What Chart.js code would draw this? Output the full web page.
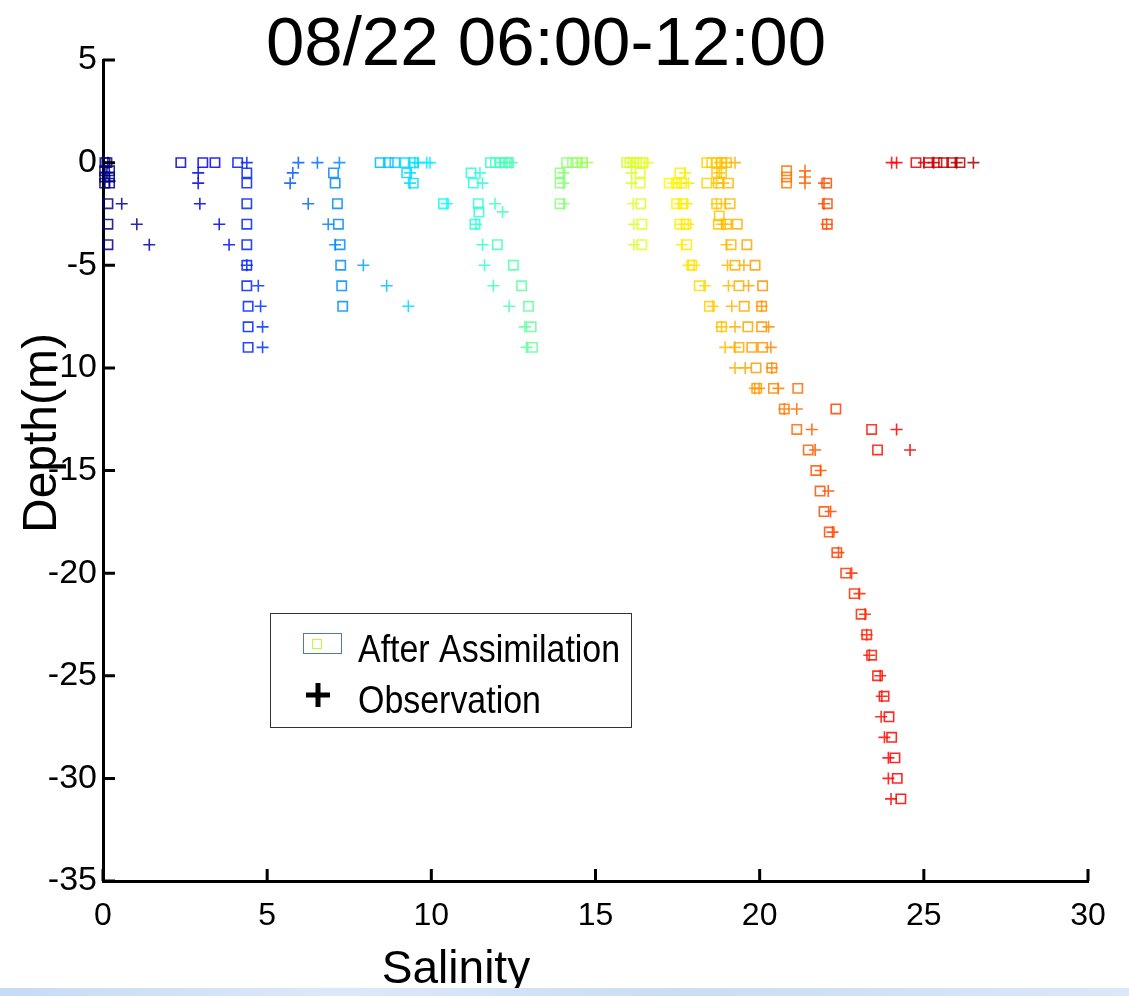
<!DOCTYPE html>
<html>
<head>
<meta charset="utf-8">
<script src="https://cdn.jsdelivr.net/npm/chart.js@4"></script>
<style>
  body { margin: 0; background: #fff; overflow: hidden; }
  #wrap { position: relative; width: 1129px; height: 996px; }
  #strip { position: absolute; left: 0; bottom: 0; width: 1129px; height: 8px;
           background: linear-gradient(to right, #c4dbf6, #dde9f8 30%, #c9ddf5 60%, #dbe8f8); }
</style>
</head>
<body>
<div id="wrap">
  <canvas id="salChart" width="1129" height="996"></canvas>
  <div id="strip"></div>
</div>
<script>
// [salinity, depth] pairs
// station near 0 psu
const freshAssim = [[0.06,0],[0.12,0],[0.05,-0.4],[0.2,-0.4],[0.05,-0.7],[0.2,-0.7],[0.05,-1],[0.2,-1],[0.15,-2],[0.15,-3],[0.15,-4]];
const freshObs = [[0.15,0],[0.12,-0.5],[0.2,-0.9],[0.57,-2],[1.03,-3],[1.41,-4]];

// stations around 4-5 psu
const blueAssim = [[2.37,0],[3.04,0],[3.41,0],[4.10,0],[4.38,-0.5],[4.38,-1],[4.38,-2],[4.38,-3],[4.38,-4],[4.38,-5],[4.38,-6],[4.42,-7],[4.42,-8],[4.42,-9]];
const blueObs = [[4.38,0],[5.95,0],[6.53,0],[7.20,0],[2.90,-0.5],[2.90,-1],[2.95,-2],[3.54,-3],[3.84,-4],[4.38,-5],[4.73,-6],[4.80,-7],[4.86,-8],[4.86,-9]];

// station around 7 psu
const lightBlueAssim = [[7.02,-0.5],[7.07,-1],[7.14,-2],[7.17,-3],[7.22,-4],[7.24,-5],[7.27,-6],[7.30,-7]];
const lightBlueObs = [[5.78,-0.5],[5.70,-1],[6.25,-2],[6.86,-3],[7.07,-4],[7.93,-5],[8.64,-6],[9.30,-7]];

// stations around 9-13 psu
const cyanAssim = [[8.44,0],[8.69,0],[8.89,0],[9.20,0],[9.45,0],[9.25,-0.5],[9.45,-1],[10.37,-2],
  [11.8,0],[11.95,0],[12.1,0],[12.25,0],[12.35,0],[11.21,-0.5],[11.28,-1],[11.43,-2],[11.45,-2.4],[11.33,-3],
  [12.01,-4],[12.50,-5],[12.75,-6],[12.96,-7],[13.04,-8],[13.08,-9]];
const cyanObs = [[9.50,0],[9.60,0],[9.86,0],[9.96,0],[9.35,-0.5],[9.35,-1],[10.47,-2],
  [12.1,0],[12.3,0],[12.45,0],[11.48,-0.5],[11.56,-1],[11.94,-2],[12.17,-2.4],[11.36,-3],
  [11.56,-4],[11.62,-5],[11.89,-6],[12.37,-7],[12.85,-8],[12.90,-9]];

// stations around 14-16 psu
const greenAssim = [[14.12,0],[14.3,0],[14.45,0],[14.6,0],[13.92,-0.5],[13.92,-1],[13.92,-2],
  [15.95,0],[16.05,0],[16.15,0],[16.25,0],[16.35,0],[16.45,0],[16.36,-0.5],[16.36,-1],[16.38,-2],[16.41,-3],[16.41,-4]];
const greenObs = [[14.55,0],[14.75,0],[14.02,-0.5],[14.02,-1],[14.03,-2],
  [16.1,0],[16.58,0],[16.1,-0.5],[16.1,-1],[16.15,-2],[16.17,-3],[16.17,-4]];

// stations around 17-21 psu
const orangeAssim = [[18.39,0],[18.54,0],[18.69,0],[18.84,0],[18.99,0],
  [17.57,-0.5],[18.69,-0.5],[18.84,-0.5],
  [17.24,-1],[17.47,-1],[17.62,-1],[18.39,-1],[18.74,-1],[19.05,-1],
  [17.47,-2],[17.67,-2],[18.69,-2],[19.10,-2],[18.77,-2.6],
  [17.57,-3],[17.76,-3],[18.74,-3],[18.99,-3],[19.32,-3],
  [17.78,-4],[19.13,-4],[19.61,-4],
  [17.93,-5],[19.25,-5],[19.86,-5],
  [18.16,-6],[19.37,-6],[20.09,-6],
  [18.47,-7],[19.53,-7],[20.06,-7],
  [18.84,-8],[19.64,-8],[20.06,-8],
  [19.37,-9],[19.76,-9],[20.09,-9],
  [19.89,-10],[20.37,-10],
  [19.91,-11],[20.42,-11],[21.16,-11]];
const orangeObs = [[18.79,0],[18.99,0],[19.25,0],
  [17.73,-0.5],[18.77,-0.5],
  [17.37,-1],[17.57,-1],[17.83,-1],[18.69,-1],[18.89,-1],
  [17.57,-2],[17.78,-2],[18.69,-2],[18.95,-2],
  [17.62,-3],[17.83,-3],[18.84,-3],[18.95,-3],
  [17.62,-4],[18.99,-4],
  [17.83,-5],[18.0,-5],[19.02,-5],[19.52,-5],
  [18.34,-6],[19.05,-6],[19.66,-6],
  [18.57,-7],[19.15,-7],[20.06,-7],
  [18.84,-8],[19.25,-8],[20.27,-8],
  [18.95,-9],[19.25,-9],[20.34,-9],
  [19.25,-10],[19.56,-10],[20.37,-10],
  [19.85,-11],[19.98,-11],[20.57,-11]];

// near-surface stations 21-22 psu
const redOrangeAssim = [[20.82,-0.4],[20.82,-0.7],[20.82,-1],[22.04,-1],[22.06,-2],[22.06,-3]];
const redOrangeObs = [[21.38,-0.4],[21.38,-0.7],[21.38,-1],[21.96,-1],[21.96,-2],[22.04,-3]];

// deep profile
const deepDepth = [-12,-13,-14,-15,-16,-17,-18,-19,-20,-21,-22,-23,-24,-25,-26,-27,-28,-29,-30,-31];
const deepAssim = [20.75,21.13,21.48,21.71,21.84,21.96,22.12,22.35,22.62,22.88,23.09,23.26,23.41,23.59,23.79,23.94,24.02,24.12,24.19,24.30];
const deepObs = [20.75,21.59,21.69,21.86,22.09,22.16,22.22,22.40,22.80,23.04,23.21,23.26,23.34,23.67,23.72,23.70,23.80,23.92,23.92,24.00];
const offAssim = [[22.32,-12],[23.41,-13],[23.59,-14]];
const offObs = [[21.13,-12],[24.17,-13],[24.58,-14]];

// surface stations 24-26.5 psu
const redAssim = [[24.76,0],[25.15,0],[25.4,0],[25.6,0],[25.85,0],[26.1,0]];
const redObs = [[24.02,0],[24.17,0],[25.0,0],[25.3,0],[26.0,0],[26.51,0]];

const xTicks = [0, 5, 10, 15, 20, 25, 30];
const yTicks = [5, 0, -5, -10, -15, -20, -25, -30, -35];

function toPts(arr) { return arr.map(p => ({ x: p[0], y: p[1] })); }
function zipPts(sal, dep) { return sal.map((s, i) => ({ x: s, y: dep[i] })); }

const assimPts = [].concat(
  toPts(freshAssim), toPts(blueAssim), toPts(lightBlueAssim), toPts(cyanAssim),
  toPts(greenAssim), toPts(orangeAssim), toPts(redOrangeAssim),
  zipPts(deepAssim, deepDepth), toPts(offAssim), toPts(redAssim));
const obsPts = [].concat(
  toPts(freshObs), toPts(blueObs), toPts(lightBlueObs), toPts(cyanObs),
  toPts(greenObs), toPts(orangeObs), toPts(redOrangeObs),
  zipPts(deepObs, deepDepth), toPts(offObs), toPts(redObs));

// jet colour map on salinity
function jet(v) {
  const t = Math.max(0, Math.min(1, v / 27.5));
  const c = f => Math.round(255 * Math.max(0, Math.min(1, f)));
  const r = c(1.5 - Math.abs(4 * t - 3));
  const g = c(1.5 - Math.abs(4 * t - 2));
  const b = c(1.5 - Math.abs(4 * t - 1));
  return 'rgba(' + r + ',' + g + ',' + b + ',0.85)';
}

const FONT = "'Liberation Sans', Arial, Helvetica, sans-serif";

const decorPlugin = {
  id: 'decor',
  afterDraw(chart) {
    const ctx = chart.ctx;
    const xs = chart.scales.x, ys = chart.scales.y;
    const area = chart.chartArea;
    ctx.save();
    // inward tick marks
    ctx.strokeStyle = '#000';
    ctx.lineWidth = 3;
    ctx.beginPath();
    xTicks.forEach(v => {
      const px = xs.getPixelForValue(v);
      ctx.moveTo(px, area.bottom);
      ctx.lineTo(px, area.bottom - 12);
    });
    yTicks.forEach(v => {
      const py = ys.getPixelForValue(v);
      ctx.moveTo(area.left, py);
      ctx.lineTo(area.left + 12, py);
    });
    ctx.stroke();

    // title and axis titles
    ctx.fillStyle = '#000';
    ctx.textAlign = 'center';
    ctx.textBaseline = 'alphabetic';
    ctx.font = '69px ' + FONT;
    ctx.fillText('08/22 06:00-12:00', 546, 65);
    ctx.font = '46px ' + FONT;
    ctx.fillText('Salinity', 456, 983);
    ctx.save();
    ctx.translate(56, 433);
    ctx.rotate(-Math.PI / 2);
    ctx.font = '48px ' + FONT;
    ctx.fillText('Depth(m)', 0, 0);
    ctx.restore();

    // legend
    ctx.fillStyle = '#fff';
    ctx.fillRect(270, 613, 361, 114);
    ctx.strokeStyle = '#333';
    ctx.lineWidth = 1;
    ctx.strokeRect(270.5, 613.5, 361, 114);
    ctx.strokeStyle = '#4f74c4';
    ctx.strokeRect(303.5, 633.5, 38, 20);
    ctx.strokeStyle = '#b8ff40';
    ctx.strokeRect(312.5, 639.5, 9, 9);
    ctx.strokeStyle = '#000';
    ctx.lineWidth = 5;
    ctx.beginPath();
    ctx.moveTo(306, 695); ctx.lineTo(330, 695);
    ctx.moveTo(318, 683); ctx.lineTo(318, 707);
    ctx.stroke();
    ctx.fillStyle = '#000';
    ctx.textAlign = 'left';
    ctx.font = '39px ' + FONT;
    ctx.save();
    ctx.translate(358, 662);
    ctx.scale(0.87, 1);
    ctx.fillText('After Assimilation', 0, 0);
    ctx.restore();
    ctx.save();
    ctx.translate(358, 713);
    ctx.scale(0.87, 1);
    ctx.fillText('Observation', 0, 0);
    ctx.restore();
    ctx.restore();
  }
};

const chart = new Chart(document.getElementById('salChart').getContext('2d'), {
  type: 'scatter',
  data: {
    datasets: [
      {
        label: 'After Assimilation',
        data: assimPts,
        pointStyle: 'rect',
        pointRadius: 6.6,
        pointHoverRadius: 6.6,
        borderWidth: 1.6,
        backgroundColor: 'rgba(0,0,0,0)',
        borderColor: c => jet(c.raw ? c.raw.x : 0),
        clip: false
      },
      {
        label: 'Observation',
        data: obsPts,
        pointStyle: 'cross',
        pointRadius: 6,
        pointHoverRadius: 6,
        borderWidth: 1.6,
        backgroundColor: 'rgba(0,0,0,0)',
        borderColor: c => jet(c.raw ? c.raw.x : 0),
        clip: false
      }
    ]
  },
  options: {
    responsive: false,
    devicePixelRatio: 1,
    animation: false,
    layout: { padding: { top: 60, right: 41, left: 0, bottom: 0 } },
    scales: {
      x: {
        type: 'linear',
        min: 0,
        max: 30,
        afterFit(scale) { scale.height = 115; },
        afterBuildTicks(scale) { scale.ticks = xTicks.map(v => ({ value: v })); },
        grid: { display: false, drawTicks: false },
        border: { display: true, color: '#000', width: 3 },
        ticks: { color: '#000', padding: 16, maxRotation: 0, font: { family: FONT, size: 32 } }
      },
      y: {
        type: 'linear',
        min: -35,
        max: 5,
        afterFit(scale) { scale.width = 103; },
        afterBuildTicks(scale) { scale.ticks = yTicks.map(v => ({ value: v })); },
        grid: { display: false, drawTicks: false },
        border: { display: true, color: '#000', width: 3 },
        ticks: { color: '#000', padding: 6, font: { family: FONT, size: 34 } }
      }
    },
    plugins: {
      legend: { display: false },
      title: { display: false },
      tooltip: { enabled: false }
    }
  },
  plugins: [decorPlugin]
});
</script>
</body>
</html>
